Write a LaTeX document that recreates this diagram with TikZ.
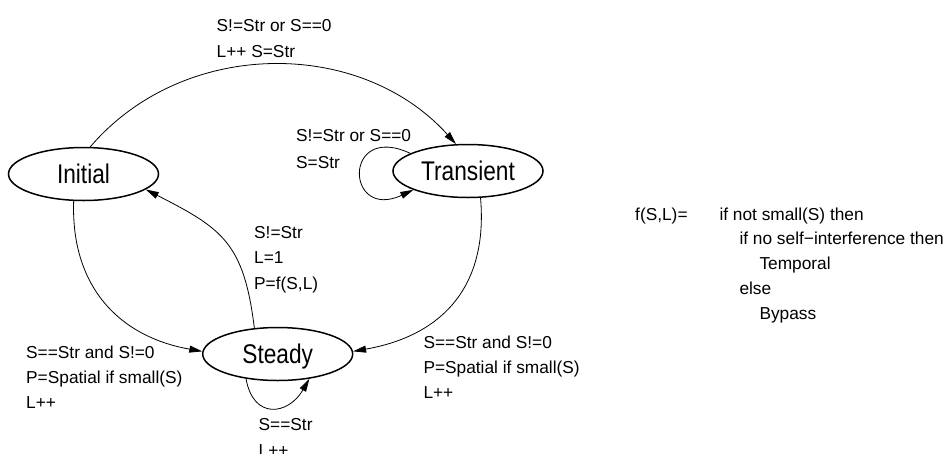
\documentclass[tikz,border=0pt]{standalone}
\usepackage{fontspec}
\setmainfont{Liberation Sans}
\newfontfamily\statefont[FakeStretch=0.84]{Liberation Sans}
\usetikzlibrary{arrows.meta,shapes.geometric}
\begin{document}
\begin{tikzpicture}[x=1pt,y=1pt,
  state/.style={ellipse, draw, line width=1.5pt, minimum width=150pt,
    minimum height=53pt, inner sep=0pt,
    font=\statefont\fontsize{27}{30}\selectfont,
    text height=19.3pt, text depth=0pt},
  edge/.style={line width=0.8pt, -{Triangle[length=13pt,width=7pt]}},
  % multi-line labels are placed by the baseline of their last line
  lbl/.style={anchor=base west, inner sep=0pt, align=left,
    font=\fontsize{17.3}{25.3}\selectfont}]
\useasboundingbox (0,0) rectangle (945,-453);

% states
\node[state] (init)   at (83.5,-174)  {Initial};
\node[state] (trans)  at (468,-171)   {Transient};
\node[state] (steady) at (277.7,-354) {Steady};

% transitions
\draw[edge] (init.76) to[out=49.5,in=132] (trans.114);
\draw[edge] (trans.163) .. controls +(155:75) and +(205:75) .. (trans.199);
\draw[edge] (trans.-65) to[out=-85,in=10,looseness=1.15] (steady.2);
\draw[edge] (init.-110) to[out=-92,in=170,looseness=1.1] (steady.178);
\draw[edge] (steady.132) to[out=97,in=-27,looseness=1.25] (init.-14.5);
\draw[edge] (steady.-142) .. controls +(-80:42) and +(240:42) .. (steady.-38.7);

% transition labels
\node[lbl] (l1) at (216.5,-57.2) {S!=Str or S==0\\L++ S=Str};
\node[lbl, font=\fontsize{17.3}{26.4}\selectfont] (l2) at (296,-168.2) {S!=Str or S==0\\S=Str};
\node[lbl] (l3) at (254,-289) {S!=Str\\L=1\\P=f(S,L)};
\node[lbl] (l4) at (26,-408.9) {S==Str and S!=0\\P=Spatial if small(S)\\L++};
\node[lbl] (l5) at (423.3,-398.9) {S==Str and S!=0\\P=Spatial if small(S)\\L++};
\node[lbl] (l6) at (258.5,-456) {S==Str\\L++};

% policy function
\node[lbl] (fname) at (635,-220) {f(S,L)=};
\node[lbl, font=\fontsize{17.3}{24.8}\selectfont] (fbody) at (719.3,-319.2)
  {if not small(S) then\\
   \hspace*{20pt}if no self−interference then\\
   \hspace*{40pt}Temporal\\
   \hspace*{20pt}else\\
   \hspace*{40pt}Bypass};
\end{tikzpicture}
\end{document}
